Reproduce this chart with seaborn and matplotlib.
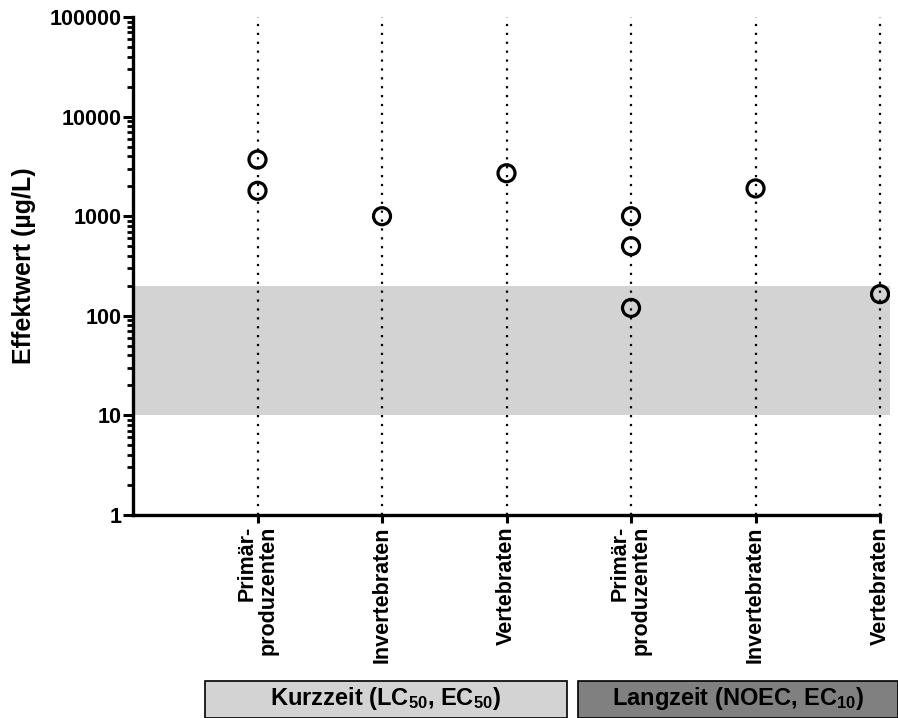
import numpy as np
import pandas as pd
import seaborn as sns
import matplotlib.pyplot as plt
from matplotlib.patches import Rectangle
from matplotlib.ticker import LogLocator, FixedLocator, FuncFormatter

# categories along the x axis (two groups of three)
categories = ["Primär-\nproduzenten", "Invertebraten", "Vertebraten",
              "Primär-\nproduzenten", "Invertebraten", "Vertebraten"]
kurz_primaer = [3700, 1800]
kurz_invert = [1000]
kurz_vert = [2700]
lang_primaer = [1000, 500, 120]
lang_invert = [1900]
lang_vert = [165]
band_low, band_high = 10, 200
group_labels = ["Kurzzeit (LC$_{50}$, EC$_{50}$)", "Langzeit (NOEC, EC$_{10}$)"]

series = [kurz_primaer, kurz_invert, kurz_vert, lang_primaer, lang_invert, lang_vert]
rows = []
for i, vals in enumerate(series):
    for v in vals:
        rows.append({"pos": i + 1, "wert": v})
df = pd.DataFrame(rows)

sns.set_style("ticks")
plt.rcParams['font.family'] = ['Liberation Sans', 'DejaVu Sans']
plt.rcParams['font.weight'] = 'bold'
plt.rcParams['text.color'] = 'black'
plt.rcParams['axes.labelcolor'] = 'black'
plt.rcParams['xtick.color'] = 'black'
plt.rcParams['ytick.color'] = 'black'
plt.rcParams['axes.edgecolor'] = 'black'
plt.rcParams['mathtext.fontset'] = 'custom'
plt.rcParams['mathtext.rm'] = 'Liberation Sans:bold'
plt.rcParams['mathtext.bf'] = 'Liberation Sans:bold'
plt.rcParams['mathtext.default'] = 'bf'

fig = plt.figure(figsize=(8.98, 7.18), dpi=100)
ax = fig.add_axes([133 / 898, 1 - 515 / 718, (890 - 133) / 898, (515 - 17) / 718])

ax.axhspan(band_low, band_high, color='#d3d3d3', lw=0, zorder=0)
positions = np.arange(1, len(categories) + 1)
ax.vlines(positions, 1, 1e5, colors='black', linestyles=(0, (1, 3)), lw=1.6, zorder=1)

sns.scatterplot(data=df, x="pos", y="wert", ax=ax, marker='o', s=150,
                facecolor='none', edgecolor='black', linewidth=2.3, zorder=3)

ax.set_yscale('log')
ax.set_ylim(1, 1e5)
ax.set_xlim(0, 6.08)
ax.yaxis.set_major_locator(LogLocator(base=10))
ax.yaxis.set_minor_locator(LogLocator(base=10, subs=np.arange(2, 10)))
ax.yaxis.set_major_formatter(FuncFormatter(lambda v, p: f"{int(round(v))}"))
ax.xaxis.set_major_locator(FixedLocator(positions))
ax.set_xticklabels(categories, rotation=90, fontsize=15.5, fontweight='bold',
                   multialignment='right', linespacing=1.0)
for lab in ax.get_yticklabels():
    lab.set_fontsize(15.5)
    lab.set_fontweight('bold')

ax.set_xlabel("")
ax.set_ylabel("Effektwert (µg/L)", fontsize=18, fontweight='bold', labelpad=10)

sns.despine(ax=ax)
ax.spines['left'].set_linewidth(2.4)
ax.spines['bottom'].set_linewidth(2.4)
ax.spines['bottom'].set_bounds(0, 6)
ax.tick_params(axis='y', which='major', length=7, width=2.2, direction='out', pad=1)
ax.tick_params(axis='y', which='minor', length=4.5, width=2, direction='out')
ax.tick_params(axis='x', which='major', length=6, width=2.2, direction='out', pad=2)

# group boxes below the axis
boxes = [(205, 567, '#d3d3d3'), (578, 898, '#808080')]
for (x0, x1, col), label in zip(boxes, group_labels):
    rect = Rectangle((x0 / 898, 0), (x1 - x0) / 898, (718 - 681) / 718,
                     transform=fig.transFigure, facecolor=col, edgecolor='black',
                     lw=1.2, clip_on=False)
    fig.patches.append(rect)
    fig.text((x0 + x1) / 2 / 898, 1 - 699 / 718, label, ha='center', va='center',
             fontsize=17, fontweight='bold')

fig.savefig("out.png", dpi=100, facecolor='white')
